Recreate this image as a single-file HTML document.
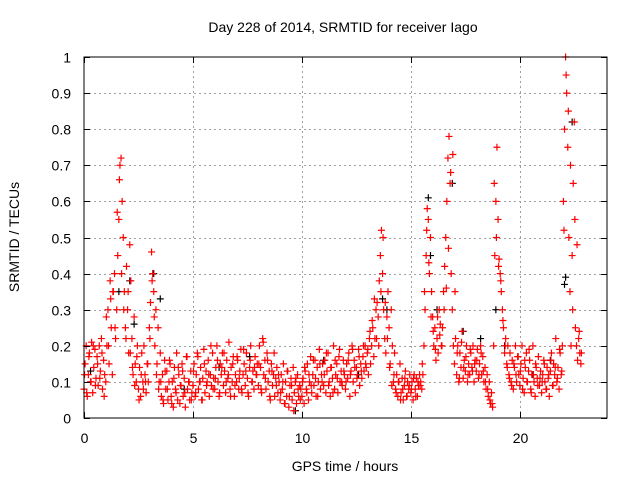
<!DOCTYPE html>
<html><head><meta charset="utf-8"><style>
body{margin:0;background:#fff}
svg{display:block;font-family:"Liberation Sans",sans-serif}
</style></head><body>
<svg id="c" width="640" height="480">
<rect width="640" height="480" fill="#fff"/>
<g id="grid"></g>
<g id="pts"></g>
<rect x="84" y="57" width="523" height="361" fill="none" stroke="#000" stroke-width="1"/>
<g id="ticks" font-size="14" fill="#000"></g>
<text x="343" y="32" text-anchor="middle" font-size="14">Day 228 of 2014, SRMTID for receiver Iago</text>
<text x="345" y="471" text-anchor="middle" font-size="14">GPS time / hours</text>
<text transform="translate(19,237) rotate(-90)" text-anchor="middle" font-size="14">SRMTID / TECUs</text>
</svg>
<script>
const xTicks=[0,5,10,15,20];
const yTicks=[0,0.1,0.2,0.3,0.4,0.5,0.6,0.7,0.8,0.9,1];
const yTickLabels=["0","0.1","0.2","0.3","0.4","0.5","0.6","0.7","0.8","0.9","1"];
const redStart=0, redStep=0.05;
const redValues=[
.08,.15,.2,.06,.12,.18,.1,.21,.07,.14,.19,.11,.17,.09,.2,.13,.22,.08,.16,.12,
.1,.2,.3,.15,.38,.25,.12,.35,.4,.22,.3,.45,.55,.7,.72,.6,.5,.35,.25,.42,
.3,.18,.48,.38,.22,.12,.28,.15,.1,.2,.08,.14,.06,.18,.1,.2,.12,.07,.15,.1,
.25,.32,.46,.4,.35,.2,.3,.15,.25,.1,.18,.06,.12,.04,.16,.08,.13,.05,.1,.15,
.06,.1,.03,.14,.08,.18,.05,.12,.04,.09,.15,.06,.11,.03,.17,.08,.1,.05,.13,.07,
.09,.15,.06,.12,.18,.08,.1,.14,.05,.11,.19,.07,.13,.1,.16,.06,.12,.09,.18,.11,
.08,.14,.2,.1,.06,.15,.12,.18,.09,.13,.07,.16,.11,.21,.08,.14,.1,.17,.06,.12,
.1,.16,.08,.13,.19,.07,.12,.15,.09,.18,.11,.06,.14,.2,.1,.13,.08,.17,.12,.15,
.09,.2,.14,.07,.22,.12,.16,.08,.18,.1,.13,.05,.15,.09,.12,.06,.11,.14,.07,.1,
.05,.12,.08,.15,.04,.1,.06,.13,.03,.09,.11,.05,.14,.07,.1,.04,.12,.06,.09,.08,
.06,.11,.04,.13,.08,.15,.05,.1,.17,.07,.12,.09,.16,.06,.14,.1,.19,.08,.12,.15,
.09,.16,.07,.13,.18,.1,.06,.14,.11,.2,.08,.12,.15,.07,.17,.1,.13,.09,.16,.12,
.08,.15,.11,.18,.06,.13,.2,.1,.16,.07,.14,.12,.19,.09,.15,.11,.17,.13,.2,.14,
.18,.12,.22,.15,.2,.25,.17,.22,.3,.32,.28,.38,.45,.52,.4,.3,.22,.18,.28,.35,
.25,.15,.3,.2,.1,.18,.08,.12,.06,.1,.15,.07,.11,.05,.09,.13,.06,.1,.08,.12,
.07,.1,.05,.12,.08,.11,.06,.09,.12,.1,.08,.12,.2,.3,.45,.58,.55,.4,.5,.35,
.28,.2,.25,.16,.22,.18,.3,.26,.2,.25,.35,.42,.5,.6,.72,.78,.65,.4,.3,.2,
.15,.22,.12,.2,.1,.18,.14,.24,.11,.16,.13,.2,.1,.15,.12,.18,.14,.2,.1,.16,
.13,.19,.11,.15,.2,.12,.17,.1,.14,.08,.12,.06,.1,.04,.07,.03,.2,.45,.6,.75,
.55,.44,.4,.35,.3,.25,.18,.22,.15,.2,.12,.18,.1,.16,.08,.14,.2,.1,.17,.12,
.09,.15,.2,.11,.07,.14,.18,.1,.13,.16,.08,.12,.2,.1,.06,.14,.11,.17,.09,.13,
.07,.12,.16,.1,.08,.14,.11,.06,.13,.18,.09,.15,.12,.22,.1,.14,.08,.18,.12,.2,
.6,.8,1.0,.9,.75,.5,.35,.2,.45,.65,.82,.25,.2,.16,.22,.18,.15
];
const red2Start=0.025, red2Step=0.1;
const red2Values=[
.12,.07,.17,.1,.2,.09,.15,.11,.18,.06,
.28,.2,.33,.35,.25,.57,.66,.4,.3,.22,
.35,.18,.14,.09,.17,.05,.12,.08,.1,.15,
.22,.38,.28,.12,.08,.1,.05,.13,.08,.16,
.04,.11,.07,.14,.09,.13,.07,.17,.1,.05,
.13,.07,.17,.1,.05,.15,.09,.12,.2,.08,
.11,.16,.07,.14,.18,.1,.12,.06,.15,.09,
.17,.11,.08,.19,.13,.07,.16,.1,.14,.12,
.15,.08,.21,.11,.16,.06,.13,.18,.09,.12,
.07,.1,.04,.13,.06,.09,.02,.11,.08,.05,
.1,.14,.07,.12,.09,.16,.11,.06,.15,.1,
.12,.18,.09,.14,.07,.16,.11,.19,.1,.13,
.1,.16,.12,.19,.14,.11,.17,.13,.2,.15,
.19,.24,.27,.33,.22,.2,.35,.5,.32,.22,
.14,.09,.12,.07,.1,.05,.08,.11,.06,.09,
.08,.11,.06,.1,.09,.15,.35,.52,.43,.28,
.24,.19,.28,.23,.2,.3,.36,.47,.68,.73,
.35,.18,.11,.21,.14,.17,.12,.19,.13,.15,
.16,.12,.18,.13,.1,.08,.05,.04,.65,.5,
.42,.38,.27,.2,.14,.11,.09,.15,.12,.17,
.13,.08,.16,.1,.19,.07,.12,.15,.09,.11,
.1,.15,.08,.12,.16,.09,.14,.11,.19,.13,
.52,.95,.85,.7,.3,.55,.48,.24,.18
];
const blackHours=[0.3,1.6,2.1,2.3,3.2,3.5,4.6,6.2,7.6,9.7,11,12.6,13.7,13.9,15.8,15.9,16.2,16.9,17.4,18.2,18.9,19.3,20.6,21.4,22.05,22.1,22.4];
const blackValues=[0.13,0.35,0.38,0.26,0.4,0.33,0.08,0.14,0.17,0.02,0.16,0.12,0.33,0.3,0.61,0.45,0.3,0.65,0.24,0.22,0.3,0.2,0.12,0.16,0.37,0.39,0.82];

const X0=84,X1=607,Y0=418,Y1=57;
const xs=h=>X0+(h/24)*(X1-X0);
const ys=v=>Y0-v*(Y0-Y1);
const NS="http://www.w3.org/2000/svg";
const grid=document.getElementById('grid'),ticks=document.getElementById('ticks'),pts=document.getElementById('pts');
function ln(g,x1,y1,x2,y2,st,dash){const l=document.createElementNS(NS,'line');l.setAttribute('x1',x1);l.setAttribute('y1',y1);l.setAttribute('x2',x2);l.setAttribute('y2',y2);l.setAttribute('stroke',st);if(dash)l.setAttribute('stroke-dasharray',dash);g.appendChild(l);return l;}
xTicks.forEach(t=>{const x=Math.round(xs(t))+0.5;
 if(t>0){const g=ln(grid,x,Y0,x,Y1,'#a0a0a0','2,3');
 
 }
 ln(ticks,x,Y0,x,Y0-6,'#000');ln(ticks,x,Y1,x,Y1+6,'#000');
 const tx=document.createElementNS(NS,'text');tx.setAttribute('x',x);tx.setAttribute('y',443);tx.setAttribute('text-anchor','middle');tx.textContent=t;
 
 
 ticks.appendChild(tx);});
yTicks.forEach((t,i)=>{const y=Math.round(ys(t))+0.5;
 if(t>0&&t<1){const g=ln(grid,X0,y,X1,y,'#a0a0a0','2,3');
 
 }
 ln(ticks,X0,y,X0+6,y,'#000');ln(ticks,X1,y,X1-6,y,'#000');
 const tx=document.createElementNS(NS,'text');tx.setAttribute('x',71);tx.setAttribute('y',y+5);tx.setAttribute('text-anchor','end');tx.textContent=yTickLabels[i];
 
 
 ticks.appendChild(tx);});
function plus(h,v,col,name){const x=xs(h),y=ys(v);const p=document.createElementNS(NS,'path');
 p.setAttribute('d',`M${x-3.5} ${y}h7M${x} ${y-3.5}v7`);p.setAttribute('stroke',col);p.setAttribute('stroke-width','1.2');p.setAttribute('fill','none');
 
 
 pts.appendChild(p);}
blackHours.forEach((h,i)=>plus(h,blackValues[i],'#000','black-point'));
redValues.forEach((v,i)=>plus(redStart+i*redStep,v,'#ff0000','red-point'));
red2Values.forEach((v,i)=>plus(red2Start+i*red2Step,v,'#ff0000','red-point'));
</script>
</body></html>
